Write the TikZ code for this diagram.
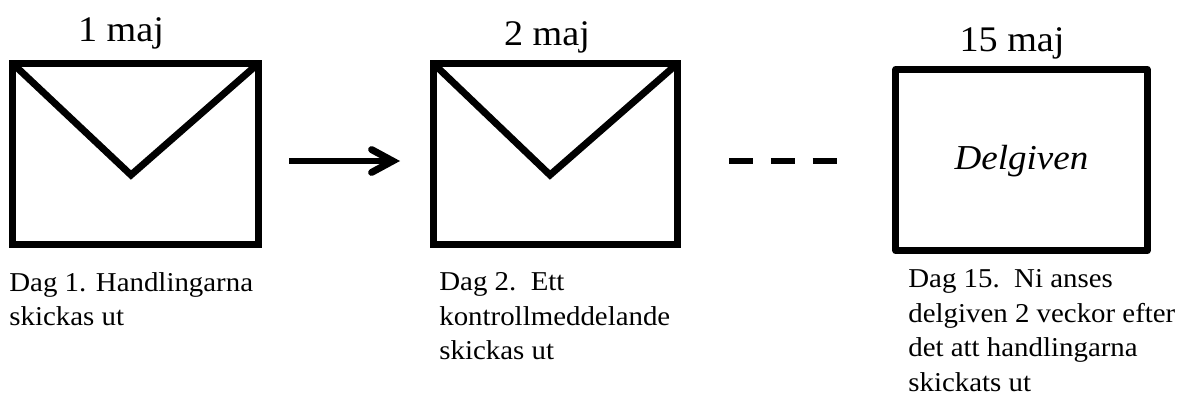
\documentclass[tikz,border=0pt]{standalone}
\usepackage{fontspec}
\setmainfont{Liberation Serif}[FakeStretch=1.06]
\usetikzlibrary{arrows.meta}

\tikzset{
    box/.style={draw, line width=7*0.567pt, minimum width=246*0.567pt, minimum height=181*0.567pt, inner sep=0pt},
    flap/.style={line width=7*0.567pt, line join=miter},
    date/.style={font=\fontsize{20.5pt}{24pt}\selectfont, inner sep=0pt},
    caption/.style={font=\fontsize{15.5pt}{19.7pt}\selectfont, align=left, anchor=north west, inner sep=0pt},
    link/.style={line width=7*0.567pt}
}

\begin{document}
\begin{tikzpicture}[x=0.2mm, y=-0.2mm]

    % Page
    \useasboundingbox (0, 0) rectangle (1181, 399);

    % Boxes
    \node [box] (mail1) at (135.5, 154) {};
    \node [box, minimum width=244.5*0.567pt] (mail2) at (555.5, 154) {};
    \node [box, line join=round, minimum width=252*0.567pt, minimum height=182*0.567pt, text depth=3pt] (final) at (1021.5, 160) {\fontsize{19.9pt}{22pt}\selectfont\itshape Delgiven};

    % Flaps
    \coordinate (tip1) at (131, 175);
    \coordinate (tip2) at (550, 175);
    \draw [flap] ([shift={(1.5pt, -1.5pt)}]mail1.north west) -- (tip1) -- ([shift={(-1.5pt, -1.5pt)}]mail1.north east);
    \draw [flap] ([shift={(1.5pt, -1.5pt)}]mail2.north west) -- (tip2) -- ([shift={(-1.5pt, -1.5pt)}]mail2.north east);

    % Dates
    \node [date] (date1) at (121, 33) {1 maj};
    \node [date] (date2) at (547, 37) {2 maj};
    \node [date] (date3) at (1012, 43) {15 maj};

    % Connectors
    \coordinate (from1) at (289, 161);
    \coordinate (to1) at (400, 161);
    \coordinate (from2) at (729, 161);
    \coordinate (to2) at (838, 161);
    \draw [link, -{Straight Barb[length=12pt, width=13pt, line cap=round]}] (from1) -- (to1);
    \draw [link, dash pattern=on 24*0.567pt off 18*0.567pt] (from2) -- (to2);

    % Captions
    \node [caption] (text1) at (9, 272) {Dag 1. Handlingarna\\skickas ut};
    \node [caption] (text2) at (439, 272) {Dag 2.\ \ Ett\\kontrollmeddelande\\skickas ut};
    \node [caption] (text3) at (908, 269) {Dag 15.\ \ Ni anses\\delgiven 2 veckor efter\\det att handlingarna\\skickats ut};

\end{tikzpicture}
\end{document}
